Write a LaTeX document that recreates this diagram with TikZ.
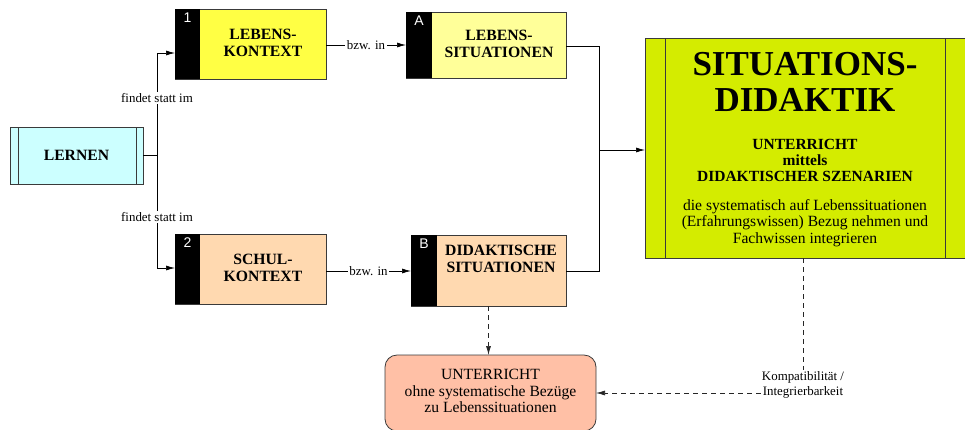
\documentclass[tikz,border=0pt]{standalone}
\usepackage{fontspec}
\setmainfont{Liberation Serif}
\newfontfamily\numfont{Liberation Sans}
\usetikzlibrary{arrows.meta}
\definecolor{lernencol}{HTML}{CCFFFF}
\definecolor{kontextcol}{HTML}{FFFF44}
\definecolor{lebenscol}{HTML}{FFFF99}
\definecolor{schulcol}{HTML}{FFD9B0}
\definecolor{unterrichtcol}{HTML}{FFC0A6}
\definecolor{didaktikcol}{HTML}{D4EC00}
\definecolor{edgecol}{HTML}{3A3A3A}
\tikzset{
  box/.style={draw=edgecol, line width=0.8pt, inner sep=0pt, outer sep=0pt},
  strip/.style={fill=black},
  boxtext/.style={font=\fontsize{15.7}{17}\selectfont\bfseries, align=center, inner sep=0pt},
  numtext/.style={font=\fontsize{14}{14}\numfont, text=white, inner sep=0pt},
  edgelabel/.style={font=\fontsize{12.9}{15.5}\selectfont, fill=white, inner sep=1.5pt, align=center},
  conn/.style={draw=black, line width=0.7pt},
  tip/.style={-{Latex[length=9pt,width=5pt]}},
  dashconn/.style={draw=black!85, line width=0.7pt, dash pattern=on 5pt off 4pt},
}
\begin{document}
\begin{tikzpicture}[x=1pt,y=-1pt]
\useasboundingbox (0,0) rectangle (965,429);

% LERNEN
\node[box, fill=lernencol, minimum width=133, minimum height=57] (lernen) at (76.5,155.5) {};
\draw[edgecol, line width=0.8pt] (18,127) -- (18,184) (136,127) -- (136,184);
\node[boxtext] (lernenT) at (76.5,155.5) {LERNEN};

% Box 1: Lebenskontext
\node[box, fill=kontextcol, minimum width=151, minimum height=70] (k1) at (250.5,44) {};
\fill[strip] (k1.north west) rectangle ([xshift=25pt]k1.south west);
\node[numtext, anchor=north] (k1n) at ([xshift=12.5pt,yshift=-4pt]k1.north west) {1};
\node[boxtext] (k1T) at (263,43) {LEBENS-\\KONTEXT};

% Box A: Lebenssituationen
\node[box, fill=lebenscol, minimum width=160, minimum height=66] (sa) at (486,45) {};
\fill[strip] (sa.north west) rectangle ([xshift=26pt]sa.south west);
\node[numtext, anchor=north] (san) at ([xshift=13pt,yshift=-4pt]sa.north west) {A};
\node[boxtext] (saT) at (499,44) {LEBENS-\\SITUATIONEN};

% Box 2: Schulkontext
\node[box, fill=schulcol, minimum width=151, minimum height=70] (k2) at (250.5,269) {};
\fill[strip] (k2.north west) rectangle ([xshift=25pt]k2.south west);
\node[numtext, anchor=north] (k2n) at ([xshift=12.5pt,yshift=-4pt]k2.north west) {2};
\node[boxtext] (k2T) at (263,268) {SCHUL-\\KONTEXT};

% Box B: Didaktische Situationen
\node[box, fill=schulcol, minimum width=155, minimum height=71] (sb) at (488.5,270.5) {};
\fill[strip] (sb.north west) rectangle ([xshift=26pt]sb.south west);
\node[numtext, anchor=north] (sbn) at ([xshift=13pt,yshift=-4pt]sb.north west) {B};
\node[boxtext] (sbT) at (501,259) {DIDAKTISCHE\\SITUATIONEN};

% Unterricht ohne Bezuege
\node[box, fill=unterrichtcol, rounded corners=12pt, minimum width=211, minimum height=76] (ub) at (490.5,393) {};
\node[font=\fontsize{15.6}{16.5}\selectfont, align=center, inner sep=0pt] (ubT) at (490.5,391)
  {UNTERRICHT\\ohne systematische Bezüge\\zu Lebenssituationen};

% Situationsdidaktik
\node[box, fill=didaktikcol, minimum width=320, minimum height=220] (sd) at (805,148) {};
\draw[edgecol, line width=0.8pt] (665,38) -- (665,258) (945,38) -- (945,258);
\node[font=\fontsize{35}{36}\selectfont\bfseries, align=center, inner sep=0pt, anchor=base] (sdT) at (805,75) {SITUATIONS-};
\node[font=\fontsize{35}{36}\selectfont\bfseries, align=center, inner sep=0pt, anchor=base] (sdT2) at (805,111) {DIDAKTIK};
\node[font=\fontsize{15.5}{16}\selectfont\bfseries, align=center, inner sep=0pt] (sdM) at (805,160) {UNTERRICHT\\mittels\\DIDAKTISCHER SZENARIEN};
\node[font=\fontsize{15.6}{16.5}\selectfont, align=center, inner sep=0pt] (sdD) at (805,223) {die systematisch auf Lebenssituationen\\(Erfahrungswissen) Bezug nehmen und\\Fachwissen integrieren};

% Lernen -> Kontexte
\coordinate (fork) at (157,155.5);
\draw[conn] (lernen.east) -- (fork);
\draw[conn, tip] (fork) |- (k1.west |- 0,53);
\draw[conn, tip] (fork) |- (k2.west |- 0,268);
\node[edgelabel] (f1) at (157,98) {findet statt im};
\node[edgelabel] (f2) at (157,217) {findet statt im};

% Kontexte -> Situationen
\draw[conn, tip] (k1.east |- 0,45) -- node[edgelabel] (b1) {bzw. in} (sa.west |- 0,45);
\draw[conn, tip] (k2.east |- 0,271) -- node[edgelabel] (b2) {bzw. in} (sb.west |- 0,271);

% Situationen -> Situationsdidaktik
\coordinate (join) at (599,150);
\draw[conn] (sa.east |- 0,46) -| (join);
\draw[conn] (sb.east |- 0,271) -| (join);
\draw[conn, tip] (join) -- (sd.west |- join);

% Dashed relations
\draw[dashconn, tip] (sb.south) -- (ub.north -| sb.south);
\node[font=\fontsize{12.9}{15.5}\selectfont, align=center, inner sep=1pt] (komp) at (803,385) {Kompatibilität /\\Integrierbarkeit};
\draw[dashconn] (sd.south -| komp) -- (komp.north);
\draw[dashconn, tip] (komp.west |- 0,393) -- (ub.east |- 0,393);
\end{tikzpicture}
\end{document}
